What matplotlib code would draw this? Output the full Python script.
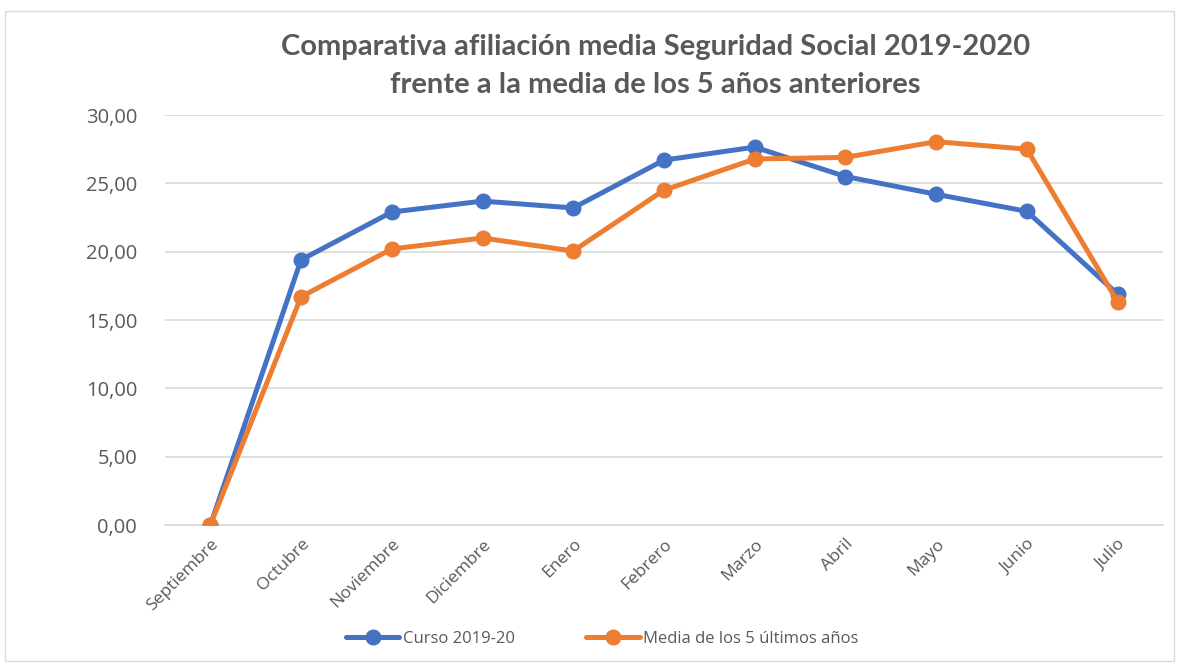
import matplotlib
matplotlib.use("Agg")
import matplotlib.pyplot as plt
from matplotlib.patches import Rectangle
from matplotlib.ticker import FuncFormatter

meses = ["Septiembre", "Octubre", "Noviembre", "Diciembre", "Enero", "Febrero",
         "Marzo", "Abril", "Mayo", "Junio", "Julio"]
curso_2019_20 = [0.0, 19.4, 22.9, 23.7, 23.2, 26.7, 27.65, 25.5, 24.2, 22.95, 16.9]
media_5_anios = [0.0, 16.7, 20.2, 21.0, 20.05, 24.5, 26.78, 26.9, 28.05, 27.5, 16.35]
yticks = [0, 5, 10, 15, 20, 25, 30]

plt.rcParams['font.family'] = ['Open Sans', 'DejaVu Sans']
gray = "#595959"

fig = plt.figure(figsize=(11.81, 6.69), dpi=100)
fig.patches.append(Rectangle((0.004, 0.012), 0.99, 0.972, transform=fig.transFigure,
                             fill=False, edgecolor="#d9d9d9", linewidth=1.0))
ax = fig.add_axes([0.1397, 0.2152, 0.845, 0.6129])

x = list(range(len(meses)))
ax.plot(x, curso_2019_20, color="#4472C4", linewidth=3.6, marker="o", markersize=10.5,
        label="Curso 2019-20", solid_capstyle="round", zorder=3)
ax.plot(x, media_5_anios, color="#ED7D31", linewidth=3.6, marker="o", markersize=10.5,
        label="Media de los 5 últimos años", solid_capstyle="round", zorder=4)

ax.set_xlim(-0.5, len(meses) - 0.5)
ax.set_ylim(0, 30)
ax.set_yticks(yticks)
ax.yaxis.set_major_formatter(FuncFormatter(lambda v, p: f"{v:.2f}".replace(".", ",")))
ax.set_xticks(x)
ax.set_xticklabels(meses, rotation=45, ha="right", rotation_mode="anchor")
ax.grid(axis="y", color="#d9d9d9", linewidth=1.2)
ax.set_axisbelow(True)
for s in ["top", "right", "left"]:
    ax.spines[s].set_visible(False)
ax.spines["bottom"].set_color("#d9d9d9")
ax.spines["bottom"].set_linewidth(1.2)
ax.tick_params(axis="both", length=0, colors=gray)
ax.tick_params(axis="y", pad=20, labelsize=14.5)
ax.tick_params(axis="x", pad=8, labelsize=12.5)

title_font = ["Lato", "DejaVu Sans"]
fig.text(0.555, 1 - 47 / 669, "Comparativa afiliación media Seguridad Social 2019-2020",
         ha="center", va="center", fontsize=21, fontweight="bold", color=gray, family=title_font)
fig.text(0.555, 1 - 85 / 669, "frente a la media de los 5 años anteriores",
         ha="center", va="center", fontsize=21, fontweight="bold", color=gray, family=title_font)

leg = fig.legend(loc="center", bbox_to_anchor=(0.51, 0.045), ncol=2, frameon=False,
                 fontsize=12, handlelength=3.2, columnspacing=4.3, handletextpad=0.2)
for t in leg.get_texts():
    t.set_color(gray)

fig.savefig("out.png", dpi=100)
